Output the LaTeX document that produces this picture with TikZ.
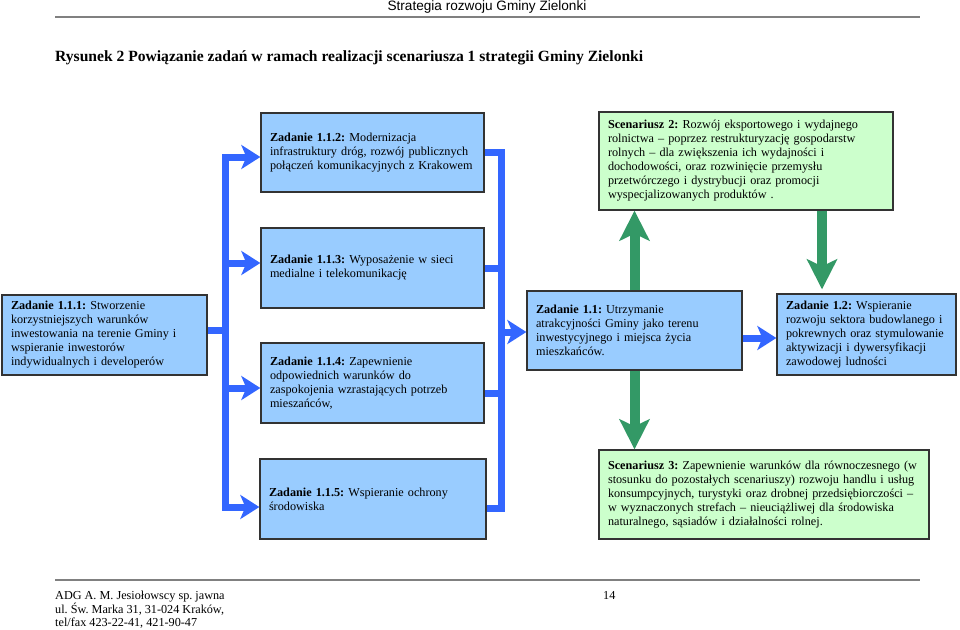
\documentclass[tikz,border=0pt]{standalone}
\usepackage{fontspec}
\setmainfont{Liberation Serif}
\newfontfamily\headfont{Liberation Sans}
\usetikzlibrary{arrows.meta}
\definecolor{taskBlue}{HTML}{99CCFF}
\definecolor{scenGreen}{HTML}{CCFFCC}
\definecolor{linkBlue}{HTML}{3366FF}
\definecolor{linkGreen}{HTML}{339966}
\definecolor{boxLine}{HTML}{333333}
\frenchspacing
\begin{document}
\begin{tikzpicture}[x=1pt, y=-1pt,
    boxStyle/.style={rectangle, draw=boxLine, line width=1.3pt, inner xsep=9pt, inner ysep=2pt, align=left, font=\fontsize{12.2}{14}\selectfont},
    taskStyle/.style={boxStyle, fill=taskBlue},
    scenStyle/.style={boxStyle, fill=scenGreen},
    blueLink/.style={draw=linkBlue, line width=7pt},
    blueArrow/.style={blueLink, -{Stealth[length=19pt, width=24pt, inset=5pt]}},
    greenArrow/.style={draw=linkGreen, line width=10pt, -{Stealth[length=30pt, width=30pt, inset=7pt]}}]
    \useasboundingbox (0,0) rectangle (960,629);

    \node[font=\headfont\fontsize{13.6}{15}\selectfont, inner sep=0] (header) at (487,6.5) {Strategia rozwoju Gminy Zielonki};
    \draw[gray, line width=1.5pt] (55,17) -- (920,17);
    \node[anchor=west, inner sep=0, font=\bfseries\fontsize{15.6}{18}\selectfont] (title) at (55,58) {Rysunek 2 Powiązanie zadań w ramach realizacji scenariusza 1 strategii Gminy Zielonki};

    \node[taskStyle, minimum width=205pt, minimum height=80pt, text width=187pt] (z111) at (104.5,335) {\textbf{Zadanie 1.1.1:} Stworzenie\\ korzystniejszych warunków\\ inwestowania na terenie Gminy i\\ wspieranie inwestorów\\ indywidualnych i developerów};
    \node[taskStyle, minimum width=223pt, minimum height=79pt, text width=205pt] (z112) at (372.5,152.5) {\textbf{Zadanie 1.1.2:} Modernizacja\\ infrastruktury dróg, rozwój publicznych\\ połączeń komunikacyjnych z Krakowem};
    \node[taskStyle, minimum width=223pt, minimum height=80pt, text width=205pt] (z113) at (372.5,268) {\textbf{Zadanie 1.1.3:} Wyposażenie w sieci\\ medialne i telekomunikację};
    \node[taskStyle, minimum width=223pt, minimum height=80pt, text width=205pt] (z114) at (372.5,383) {\textbf{Zadanie 1.1.4:} Zapewnienie\\ odpowiednich warunków do\\ zaspokojenia wzrastających potrzeb\\ mieszańców,};
    \node[taskStyle, minimum width=226pt, minimum height=80pt, text width=208pt] (z115) at (373,499) {\textbf{Zadanie 1.1.5:} Wspieranie ochrony\\ środowiska};

    \node[taskStyle, minimum width=215pt, minimum height=79pt, text width=197pt] (z11) at (634.5,330.5) {\textbf{Zadanie 1.1:} Utrzymanie\\ atrakcyjności Gminy jako terenu\\ inwestycyjnego i miejsca życia\\ mieszkańców.};
    \node[taskStyle, minimum width=179pt, minimum height=81pt, text width=161pt] (z12) at (866.5,334.5) {\textbf{Zadanie 1.2:} Wspieranie\\ rozwoju sektora budowlanego i\\ pokrewnych oraz stymulowanie\\ aktywizacji i dywersyfikacji\\ zawodowej ludności};

    \node[scenStyle, minimum width=294pt, minimum height=98pt, text width=276pt] (sc2) at (746,161) {\textbf{Scenariusz 2:} Rozwój eksportowego i wydajnego\\ rolnictwa – poprzez restrukturyzację gospodarstw\\ rolnych – dla zwiększenia ich wydajności i\\ dochodowości, oraz rozwinięcie przemysłu\\ przetwórczego i dystrybucji oraz promocji\\ wyspecjalizowanych produktów .};
    \node[scenStyle, minimum width=330pt, minimum height=89pt, text width=312pt] (sc3) at (764,494.5) {\textbf{Scenariusz 3:} Zapewnienie warunków dla równoczesnego (w\\ stosunku do pozostałych scenariuszy) rozwoju handlu i usług\\ konsumpcyjnych, turystyki oraz drobnej przedsiębiorczości –\\ w wyznaczonych strefach – nieuciążliwej dla środowiska\\ naturalnego, sąsiadów i działalności rolnej.};

    % blue brackets
    \coordinate (lbar) at (225.5,0);
    \coordinate (rbar) at (501,0);
    \coordinate (z111_out) at ([yshift=5pt]z111.east);
    \draw[blueLink] (z111_out) -- (z111_out -| lbar);
    \foreach \t/\dy in {z112/-4.5, z113/5, z114/-5, z115/-8} {
        \coordinate (\t_in) at ([yshift=\dy pt]\t.west);
        \draw[blueArrow] (\t_in -| lbar) -- (\t_in);
    }
    \draw[blueLink, line cap=rect] (z112_in -| lbar) -- (z115_in -| lbar);
    \foreach \t/\dy in {z112/0, z113/0, z114/-10, z115/-9} {
        \coordinate (\t_out) at ([yshift=\dy pt]\t.east);
        \draw[blueLink] (\t_out) -- (\t_out -| rbar);
    }
    \draw[blueLink, line cap=rect] (z112_out -| rbar) -- (z115_out -| rbar);
    \coordinate (z11_in) at ([yshift=-1.5pt]z11.west);
    \draw[blueArrow] (z11_in -| rbar) -- (z11_in);
    \coordinate (z11_out) at ([yshift=-7.5pt]z11.east);
    \draw[blueArrow] (z11_out) -- (z11_out -| z12.west);

    % green arrows
    \draw[greenArrow] (z11.north) -- (z11.north |- sc2.south);
    \coordinate (sc2_out) at ([xshift=76pt]sc2.south);
    \draw[greenArrow, shorten >=4pt] (sc2_out) -- (sc2_out |- z12.north);
    \draw[greenArrow] (z11.south) -- (z11.south |- sc3.north);

    \draw[gray, line width=1.5pt] (55,580) -- (920,580);
    \node[anchor=north west, align=left, inner sep=0, font=\fontsize{12.2}{13}\selectfont] (footer) at (55,591) {ADG A. M. Jesiołowscy sp. jawna\\ ul. Św. Marka 31, 31-024 Kraków,\\ tel/fax 423-22-41, 421-90-47};
    \node[anchor=north west, inner sep=0, font=\fontsize{12.2}{13}\selectfont] (page) at (603,591) {14};
\end{tikzpicture}
\end{document}
